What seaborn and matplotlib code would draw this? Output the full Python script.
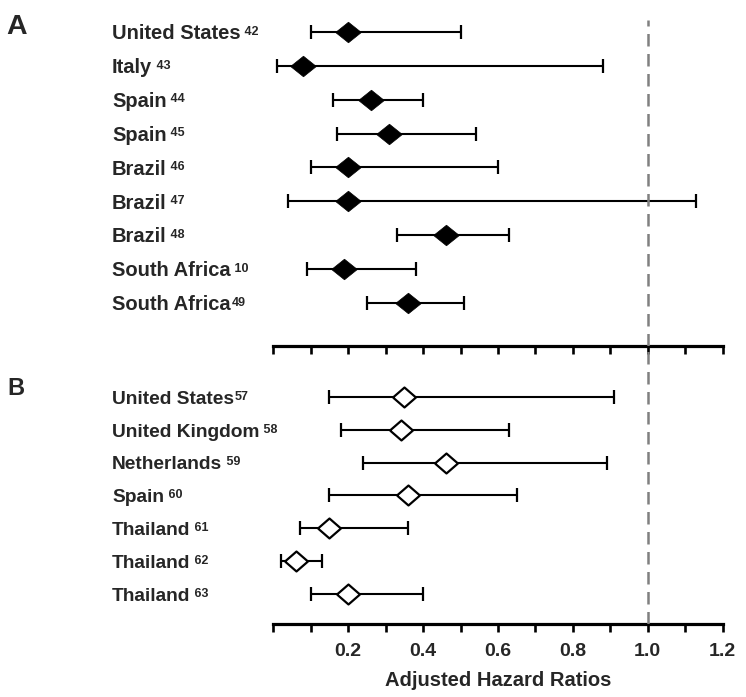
import numpy as np
import matplotlib
matplotlib.use("Agg")
import matplotlib.pyplot as plt
import seaborn as sns

# ── Panel A: filled diamonds ────────────────────────────────────────────────
a_names = ["United States", "Italy", "Spain", "Spain", "Brazil", "Brazil",
           "Brazil", "South Africa", "South Africa"]
a_refs = [" 42", " 43", " 44", " 45", " 46", " 47", " 48", " 10", "49"]
a_hr = [0.20, 0.08, 0.26, 0.31, 0.20, 0.20, 0.46, 0.19, 0.36]
a_lo = [0.10, 0.01, 0.16, 0.17, 0.10, 0.04, 0.33, 0.09, 0.25]
a_hi = [0.50, 0.88, 0.40, 0.54, 0.60, 1.13, 0.63, 0.38, 0.51]

# ── Panel B: open diamonds ──────────────────────────────────────────────────
b_names = ["United States", "United Kingdom", "Netherlands", "Spain",
           "Thailand", "Thailand", "Thailand"]
b_refs = ["57", " 58", " 59", " 60", " 61", " 62", " 63"]
b_hr = [0.35, 0.34, 0.46, 0.36, 0.15, 0.06, 0.20]
b_lo = [0.15, 0.18, 0.24, 0.15, 0.07, 0.02, 0.10]
b_hi = [0.91, 0.63, 0.89, 0.65, 0.36, 0.13, 0.40]

tick_values = [0.0, 0.1, 0.2, 0.3, 0.4, 0.5, 0.6, 0.7, 0.8, 0.9, 1.0, 1.1, 1.2]
tick_labels = ["", "", "0.2", "", "0.4", "", "0.6", "", "0.8", "", "1.0", "", "1.2"]
ref_line = 1.0

sns.set_style("white")
plt.rcParams["font.family"] = ["Liberation Sans", "DejaVu Sans"]
plt.rcParams["font.weight"] = "bold"

W, H = 746, 697
fig = plt.figure(figsize=(W / 100, H / 100), dpi=100)

x0, x1 = 273.3, 722.7
axA = fig.add_axes([x0 / W, 1 - 346 / H, (x1 - x0) / W, (346 - 20) / H])
axB = fig.add_axes([x0 / W, 1 - 623.5 / H, (x1 - x0) / W, (623.5 - 346) / H])
axB.patch.set_visible(False)

diamond_filled = [(-1, 0), (0, 0.8), (1, 0), (0, -0.8), (-1, 0)]
diamond_open = [(-1, 0), (0, 0.87), (1, 0), (0, -0.87), (-1, 0)]


def forest(ax, names, refs, hr, lo, hi, ylim, fs, filled):
    rows = np.arange(len(names))
    hr, lo, hi = np.array(hr), np.array(lo), np.array(hi)
    ax.errorbar(hr, rows, xerr=[hr - lo, hi - hr], fmt="none", ecolor="black",
                elinewidth=1.5, capsize=4.7, capthick=1.6, zorder=2)
    if filled:
        sns.scatterplot(x=hr, y=rows, ax=ax, marker=diamond_filled, s=18.5 ** 2,
                        color="black", edgecolor="black", linewidth=0.5, zorder=3)
    else:
        sns.scatterplot(x=hr, y=rows, ax=ax, marker=diamond_open, s=16.5 ** 2,
                        facecolor="white", edgecolor="black", linewidth=1.6, zorder=3)
    ax.axvline(ref_line, color="#808080", linewidth=1.8, dashes=(5.0, 3.0), zorder=4)

    for i, (n, r) in enumerate(zip(names, refs)):
        t = ax.annotate(n, xy=(112 / W, i), xycoords=("figure fraction", "data"),
                        xytext=(0, -0.36 * fs), textcoords="offset points",
                        va="baseline", ha="left", fontsize=fs, fontweight="bold")
        ax.annotate(r, xy=(1, 0), xycoords=t, xytext=(0.5, 0.42 * fs),
                    textcoords="offset points", va="baseline", ha="left",
                    fontsize=9, fontweight="bold")

    ax.set_xlim(0, 1.2)
    ax.set_ylim(*ylim)
    ax.set_yticks([])
    ax.set_xticks(tick_values)
    ax.set_xticklabels(tick_labels)
    for s in ["top", "left", "right"]:
        ax.spines[s].set_visible(False)
    ax.spines["bottom"].set_linewidth(2.3)
    ax.spines["bottom"].set_color("black")
    ax.tick_params(axis="x", direction="out", length=6, width=1.9, color="black",
                   bottom=True, labelsize=14, pad=8)


forest(axA, a_names, a_refs, a_hr, a_lo, a_hi, (9.27, -0.35), 14.5, True)
forest(axB, b_names, b_refs, b_hr, b_lo, b_hi, (6.9, -1.55), 13.8, False)
axA.set_xticklabels([])

axB.set_xlabel("Adjusted Hazard Ratios", fontsize=14.5, fontweight="bold", labelpad=8)
for lab in axB.get_xticklabels():
    lab.set_fontweight("bold")

fig.text(6 / W, 1 - 33.5 / H, "A", fontsize=20.5, fontweight="bold", va="baseline")
fig.text(7 / W, 1 - 395.5 / H, "B", fontsize=17, fontweight="bold", va="baseline")

fig.savefig("out.png", dpi=100)
